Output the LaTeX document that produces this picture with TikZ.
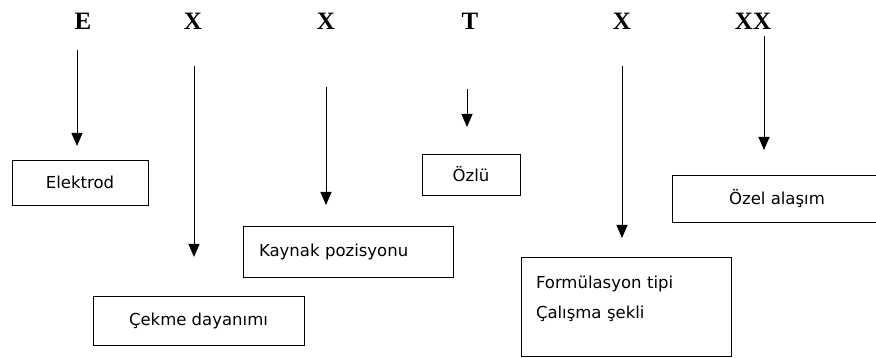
\documentclass[tikz,border=0pt]{standalone}
\usepackage{fontspec}
\setmainfont{DejaVu Sans}
\newfontfamily\letterfont{Liberation Serif}
\usetikzlibrary{arrows.meta, positioning}

\begin{document}
\begin{tikzpicture}[
        x=1pt, y=-1pt,
        letter/.style={font=\letterfont\bfseries\fontsize{25}{30}\selectfont, inner sep=0pt},
        box/.style={rectangle, draw=black, line width=0.9pt, fill=white, align=center, minimum width=210pt, font=\fontsize{16.5}{30}\selectfont},
        arr/.style={-{Triangle[width=11pt,length=13pt]}, line width=1pt}
    ]
        \useasboundingbox (0,0) rectangle (876,358);

        % code letters
        \node[letter] (e) at (83,21) {E};
        \node[letter] (x1) at (193,21) {X};
        \node[letter] (x2) at (326,21) {X};
        \node[letter] (t) at (470,21) {T};
        \node[letter] (x3) at (622,21) {X};
        \node[letter] (xx) at (753,21) {XX};

        % meanings
        \node[box, minimum width=136pt, minimum height=45pt] (elektrod) at (80,182.5) {Elektrod};
        \node[box, minimum width=211pt, minimum height=49pt] (cekme) at (198.5,320.5) {Çekme dayanımı};
        \node[box, minimum height=51pt, text width=178pt, align=left] (kaynak) at (348,251.5) {Kaynak pozisyonu};
        \node[box, minimum width=98pt, minimum height=41pt] (ozlu) at (471,174.5) {Özlü};
        \node[box, minimum height=47pt] (ozel) at (777,198.5) {Özel alaşım};
        \node[box, minimum height=99pt, text width=180pt, align=left] (form) at (626,306.5) {Formülasyon tipi\\Çalışma şekli\\[-12pt]\mbox{}};

        % arrow ends
        \coordinate (eTop) at (77,50);   \coordinate (eEnd) at (77,146);
        \coordinate (x1Top) at (194,66); \coordinate (x1End) at (194,257);
        \coordinate (x2Top) at (326,87); \coordinate (x2End) at (326,205);
        \coordinate (tTop) at (467,89);  \coordinate (tEnd) at (467,127);
        \coordinate (x3Top) at (622,66); \coordinate (x3End) at (622,238);
        \coordinate (xxTop) at (764,36); \coordinate (xxEnd) at (764,150);

        \draw[arr] (eTop) -- (eEnd);
        \draw[arr] (x1Top) -- (x1End);
        \draw[arr] (x2Top) -- (x2End);
        \draw[arr] (tTop) -- (tEnd);
        \draw[arr] (x3Top) -- (x3End);
        \draw[arr] (xxTop) -- (xxEnd);
    \end{tikzpicture}
\end{document}
